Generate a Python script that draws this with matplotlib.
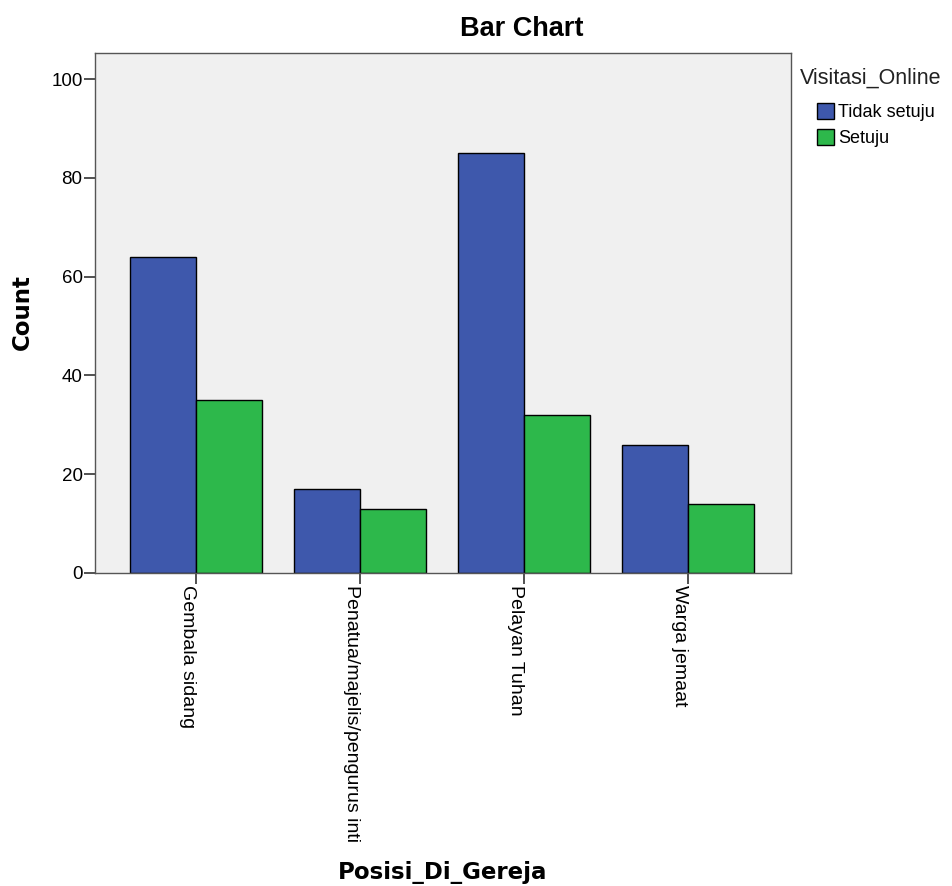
import numpy as np
import matplotlib.pyplot as plt
from matplotlib.patches import Patch

plt.rcParams['font.family'] = ['Liberation Sans', 'DejaVu Sans']

categories = ["Gembala sidang", "Penatua/majelis/pengurus inti", "Pelayan Tuhan", "Warga jemaat"]
tidak_setuju = [64, 17, 85, 26]
setuju = [35, 13, 32, 14]
series_names = ["Tidak setuju", "Setuju"]

blue = "#3e58ac"
green = "#2db84b"

fig = plt.figure(figsize=(9.52, 8.86), dpi=100)
ax = fig.add_axes([0.0998, 0.3533, 0.7312, 0.5869])
ax.set_facecolor("#f0f0f0")

x = np.arange(len(categories))
w = 0.40
ax.bar(x - w / 2, tidak_setuju, w, color=blue, edgecolor="black", linewidth=1)
ax.bar(x + w / 2, setuju, w, color=green, edgecolor="black", linewidth=1)

ax.set_xlim(-0.616, 3.628)
ax.set_ylim(0, 105.3)
ax.set_yticks([0, 20, 40, 60, 80, 100])
ax.set_xticks(x)
ax.set_xticklabels(categories, rotation=270, fontsize=14, ha="right", va="top")
ax.tick_params(axis="y", labelsize=13.5, length=8, width=1.2, pad=1, color="#333333")
ax.tick_params(axis="x", length=8, width=1.2, pad=1, color="#333333")

for s in ax.spines.values():
    s.set_color("#555555")
    s.set_linewidth(1)

# axis titles and chart title
fig.text(22 / 952, 1 - 312 / 886, "Count", family="DejaVu Sans", fontsize=16.5,
         fontweight="bold", rotation=90, ha="center", va="center")
fig.text(443 / 952, 1 - 879 / 886, "Posisi_Di_Gereja", family="DejaVu Sans",
         fontsize=16.5, fontweight="bold", ha="center", va="baseline")
fig.text(522 / 952, 1 - 29 / 886, "Bar Chart", fontsize=19.5, fontweight="bold",
         ha="center", va="center")

# legend
fig.text(800 / 952, 1 - 78 / 886, "Visitasi_Online", fontsize=15.5, color="#222222",
         ha="left", va="center")
handles = [Patch(facecolor=blue, edgecolor="black"), Patch(facecolor=green, edgecolor="black")]
fig.legend(handles, series_names, loc="upper left",
           bbox_to_anchor=(817 / 952, 1 - 103 / 886), frameon=False,
           fontsize=13, handlelength=0.95, handleheight=0.95, handletextpad=0.2,
           labelspacing=0.45, borderpad=0, borderaxespad=0)

fig.savefig("out.png", dpi=100)
